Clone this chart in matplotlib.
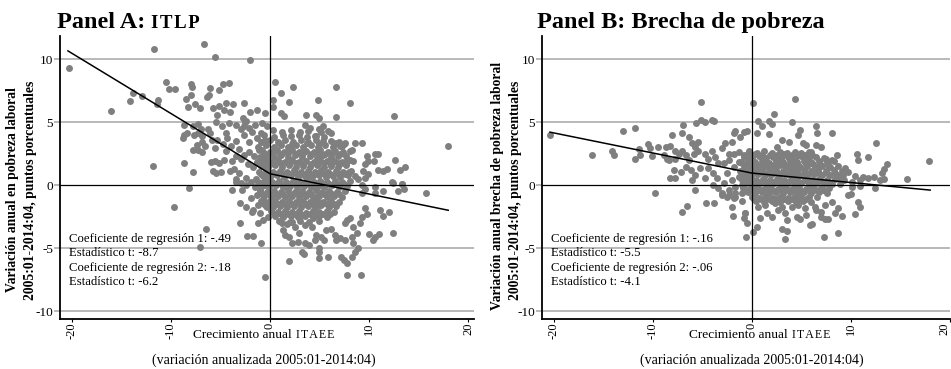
import numpy as np
import matplotlib.pyplot as plt
from matplotlib.transforms import ScaledTranslation

plt.rcParams['font.family'] = ['Liberation Serif', 'DejaVu Serif']

# ---- datos (crecimiento ITAEE, variacion anual) ----
# Panel A: ITLP, puntos aislados
puntos_a = [
    (-20.3, 9.3), (-11.75, 10.8), (-6.7, 11.2), (-5.5, 10.2), (-2.0, 9.9),
    (-16.1, 5.85), (-14.1, 6.64), (-13.8, 7.28), (-12.9, 7.06), (-11.4, 6.45), (-11.3, 6.72),
    (-10.5, 8.2), (-10.2, 7.65), (-9.6, 7.65), (-11.8, 1.53), (-8.7, 1.75), (-7.8, 1.06),
    (-8.0, 7.99), (-7.9, 7.8), (-8.5, 6.85), (-8.0, 7.17), (-8.3, 6.22), (-7.6, 6.45), (-7.1, 6.13),
    (-6.1, 7.73), (-6.35, 6.98), (-6.2, 7.15), (-5.1, 7.54), (-4.7, 8.04), (-4.1, 8.12),
    (-5.8, 6.13), (-5.1, 6.27), (-4.6, 5.95), (-4.4, 6.48), (-3.7, 6.4), (-5.3, 5.58), (-4.0, 5.76),
    (-2.6, 6.48), (-2.0, 5.81), (-1.3, 5.92), (-0.5, 5.68), (-2.7, 5.29), (-2.4, 5.08), (-2.6, 4.68),
    (-8.7, 4.73), (-7.8, 4.68), (-7.3, 4.81), (-7.0, 4.47), (-8.7, 4.0), (-8.4, 4.15), (-8.8, 3.75),
    (-7.7, 3.97), (-7.3, 4.15), (-6.9, 3.89), (-6.3, 4.42), (-6.1, 4.1), (-5.4, 5.0), (-4.8, 4.68),
    (-4.4, 4.15), (-4.1, 4.95), (-3.4, 4.73), (-2.9, 4.42), (-2.5, 5.0), (-2.1, 4.5), (-1.5, 4.8),
    (-0.8, 4.9), (-0.3, 4.7),
    (-7.8, 2.8), (-7.4, 3.2), (-6.9, 3.4), (-6.6, 3.1), (-5.9, 3.57), (-5.6, 2.96), (-5.3, 3.6),
    (-4.7, 3.25), (-4.3, 3.75), (-4.4, 2.7), (-3.9, 3.1), (-3.4, 3.5), (-3.1, 2.85), (-2.6, 3.97),
    (-2.1, 3.44), (-1.8, 4.2), (-1.3, 3.7), (-0.9, 4.1), (-0.5, 3.6), (-7.3, 2.8), (-6.9, 2.6),
    (-6.0, 1.8), (-5.6, 1.88), (-5.1, 1.75), (-4.6, 1.97), (-5.8, 1.1), (-5.4, 0.97), (-4.9, 1.0),
    (-4.0, 1.1), (-3.6, 1.3), (-3.1, 0.97), (-3.8, 1.9), (-3.4, 2.3), (-2.9, 2.04), (-2.6, 2.4),
    (-2.1, 2.65), (-1.6, 2.3), (-1.1, 2.8), (-0.6, 2.55), (-0.3, 2.1),
    (-2.2, 1.7), (-1.7, 1.44), (-1.2, 1.84), (-0.7, 1.58), (-0.4, 1.32),
    (-3.4, 0.46), (-2.9, 0.19), (-2.4, 0.58), (-1.9, 0.24), (-1.4, 0.46), (-0.9, 0.14), (-0.4, 0.5),
    (0.54, 8.15), (2.35, 7.75), (1.1, 7.33), (0.27, 6.75), (1.95, 6.56), (4.8, 6.75), (0.27, 6.17),
    (6.7, 7.75), (8.1, 6.48), (12.5, 5.48), (18.0, 3.12),
    (3.67, 5.53), (4.6, 5.53), (4.95, 5.29), (6.7, 5.4), (1.1, 5.69), (1.45, 5.48),
    (8.6, 3.36), (9.3, 3.36), (7.5, 3.25), (8.3, 2.75), (9.8, 2.3), (10.6, 2.45), (10.9, 2.5),
    (10.5, 1.9), (12.6, 1.96), (10.9, 1.2), (11.4, 1.1), (11.8, 1.3), (13.1, 1.2), (13.6, 1.4),
    (12.3, 0.23), (13.3, 0.1),
    (6.2, 4.15), (5.9, 4.28), (5.4, 4.68), (4.9, 4.42), (3.5, 4.73), (4.0, 4.55), (4.5, 3.89),
    (6.5, 3.36), (7.1, 3.1), (7.6, 3.3), (8.1, 2.7), (8.4, 1.9), (7.8, 2.0), (7.2, 1.77),
    (9.6, 1.65), (9.9, 1.9), (9.4, 1.15), (8.0, 1.0), (8.6, 0.7), (8.9, 0.45), (9.6, 0.6), (9.9, 0.85),
    (15.8, -0.66), (12.4, 0.13), (13.3, 0.08), (13.5, -0.34), (12.9, -0.45), (10.6, -0.13),
    (11.4, -0.45), (10.6, -0.66), (9.3, 0.0), (9.6, -0.34), (9.3, -0.66), (11.1, -1.98),
    (12.0, -2.17), (11.4, -2.43), (12.4, -3.78), (10.0, -3.9), (10.6, -4.15), (11.0, -3.9),
    (10.4, -4.36), (9.6, -1.85), (9.8, -2.33), (9.3, -2.51), (9.1, -3.04),
    (8.4, -3.3), (8.8, -3.8), (8.3, -4.1), (8.4, -4.63), (8.9, -5.0), (8.6, -5.3), (8.3, -5.7),
    (7.2, -5.7), (7.5, -5.95), (7.8, -6.2), (7.8, -7.1), (9.2, -7.1), (5.9, -5.7), (4.9, -5.8),
    (5.0, -5.3), (5.0, -5.0), (3.4, -5.5), (3.2, -5.3), (1.9, -6.0), (-0.5, -7.3),
    (3.5, -4.6), (3.9, -4.76), (2.2, -4.6), (2.8, -4.55), (1.5, -3.97), (1.9, -4.1), (1.3, -3.57),
    (4.6, -3.97), (5.2, -4.1), (5.5, -4.36), (4.5, -4.36), (6.6, -3.97), (7.1, -4.23), (7.6, -4.36),
    (6.7, -4.36), (5.7, -3.57), (6.2, -3.5), (3.5, -3.17), (4.2, -3.3), (2.5, -3.3), (2.9, -3.84),
    (1.2, -3.04), (1.7, -3.1), (2.2, -2.9), (7.6, -3.04), (7.8, -2.78), (8.1, -2.65),
    (-8.15, -0.26), (-9.7, -1.77), (-6.5, -3.52), (-7.07, -4.9), (-3.0, -2.99), (-2.3, -4.05),
    (-1.75, -4.05), (-0.88, -4.6), (-3.8, -0.4), (-3.4, 0.26), (-3.0, -1.45), (-2.4, -1.72),
    (-1.7, -1.98), (-1.0, -2.25), (-1.9, -1.06), (-1.35, -0.79), (-0.67, -1.19), (-0.33, -1.72),
    (-1.0, -0.4), (-0.5, 0.0), (-1.5, -0.13), (-2.4, 0.0), (-2.8, -0.4), (-1.85, -2.1),
    (-1.2, -3.04), (-0.67, -2.78), (-0.17, -2.5), (-1.2, -1.58),
]

# Panel A: nube densa central
nube_a = [
    (0.3, 4.38), (1.2, 4.22), (2.1, 4.35), (3.0, 4.18), (3.8, 4.32), (5.2, 4.25),
    (-0.6, 3.95), (0.4, 3.82), (1.3, 4.0), (2.1, 3.86), (2.9, 3.97), (3.7, 3.8), (4.6, 3.93), (5.5, 3.85),
    (-0.9, 3.42), (0.0, 3.58), (0.8, 3.45), (1.5, 3.6), (2.3, 3.43), (3.1, 3.55), (3.8, 3.4),
    (4.6, 3.57), (5.4, 3.46), (6.2, 3.52), (7.0, 3.44),
    (-0.5, 3.3), (0.9, 3.33), (2.2, 3.28), (3.7, 3.32), (5.0, 3.27), (6.8, 3.31),
    (-1.2, 3.05), (-0.4, 3.18), (0.4, 3.02), (1.1, 3.15), (1.8, 3.0), (2.6, 3.17), (3.3, 3.04),
    (4.1, 3.2), (4.8, 3.06), (5.6, 3.14), (6.4, 3.0), (7.3, 3.12),
    (-0.8, 2.75), (0.0, 2.62), (0.7, 2.78), (1.4, 2.64), (2.2, 2.76), (2.9, 2.6), (3.6, 2.74),
    (4.4, 2.66), (5.1, 2.8), (5.9, 2.63), (6.6, 2.72), (7.4, 2.65),
    (-0.6, 2.5), (0.3, 2.53), (1.0, 2.47), (1.8, 2.52), (2.6, 2.46), (3.3, 2.54), (4.1, 2.48),
    (4.9, 2.51), (5.6, 2.45), (6.3, 2.52), (7.1, 2.49),
    (-1.0, 2.26), (-0.3, 2.38), (0.4, 2.22), (1.1, 2.35), (1.8, 2.24), (2.5, 2.37), (3.2, 2.2),
    (4.0, 2.33), (4.7, 2.25), (5.4, 2.39), (6.2, 2.23), (6.9, 2.34), (7.7, 2.27),
    (-1.3, 1.86), (-0.6, 1.97), (0.1, 1.83), (0.8, 1.95), (1.5, 1.84), (2.2, 1.98), (2.9, 1.85),
    (3.6, 1.94), (4.4, 1.82), (5.1, 1.96), (5.8, 1.87), (6.5, 1.93), (7.3, 1.84), (8.1, 1.95),
    (-1.0, 1.7), (-0.3, 1.73), (0.4, 1.67), (1.1, 1.72), (1.9, 1.66), (2.6, 1.74), (3.3, 1.68),
    (4.1, 1.71), (4.8, 1.65), (5.5, 1.73), (6.2, 1.69), (6.9, 1.72), (7.7, 1.67),
    (-0.9, 1.55), (-0.2, 1.43), (0.5, 1.57), (1.2, 1.45), (1.9, 1.56), (2.6, 1.42), (3.3, 1.54),
    (4.0, 1.46), (4.7, 1.58), (5.5, 1.44), (6.2, 1.53), (6.9, 1.47), (7.7, 1.56),
    (-1.1, 1.06), (-0.4, 1.17), (0.3, 1.03), (1.0, 1.15), (1.7, 1.04), (2.4, 1.16), (3.1, 1.02),
    (3.8, 1.14), (4.5, 1.05), (5.2, 1.18), (5.9, 1.03), (6.7, 1.13), (7.4, 1.06), (8.2, 1.15),
    (-0.9, 0.9), (-0.2, 0.93), (0.5, 0.87), (1.2, 0.92), (1.9, 0.86), (2.6, 0.94), (3.3, 0.88),
    (4.0, 0.91), (4.7, 0.85), (5.4, 0.93), (6.1, 0.89), (6.9, 0.92), (7.6, 0.87),
    (-0.7, 0.74), (0.0, 0.63), (0.7, 0.77), (1.4, 0.65), (2.1, 0.76), (2.8, 0.62), (3.5, 0.75),
    (4.2, 0.66), (4.9, 0.78), (5.7, 0.64), (6.4, 0.73), (7.1, 0.67), (7.9, 0.76),
    (-1.2, 0.26), (-0.5, 0.37), (0.2, 0.24), (0.9, 0.35), (1.6, 0.22), (2.3, 0.36), (3.0, 0.25),
    (3.7, 0.38), (4.4, 0.23), (5.1, 0.34), (5.8, 0.27), (6.6, 0.36), (7.3, 0.24), (8.1, 0.33),
    (-1.0, 0.1), (-0.3, 0.13), (0.4, 0.07), (1.1, 0.12), (1.8, 0.06), (2.5, 0.14), (3.2, 0.08),
    (3.9, 0.11), (4.6, 0.05), (5.3, 0.13), (6.0, 0.09), (6.8, 0.12), (7.5, 0.07),
    (-0.8, -0.05), (-0.1, -0.17), (0.6, -0.03), (1.3, -0.15), (2.0, -0.06), (2.7, -0.18),
    (3.4, -0.04), (4.1, -0.16), (4.8, -0.07), (5.5, -0.14), (6.3, -0.02), (7.0, -0.13), (7.8, -0.08),
    (-1.0, -0.46), (-0.3, -0.57), (0.4, -0.44), (1.1, -0.55), (1.8, -0.43), (2.5, -0.58),
    (3.2, -0.45), (3.9, -0.54), (4.6, -0.42), (5.3, -0.56), (6.0, -0.47), (6.8, -0.53), (7.6, -0.45),
    (-0.8, -0.7), (-0.1, -0.67), (0.6, -0.73), (1.3, -0.68), (2.0, -0.74), (2.7, -0.66),
    (3.4, -0.72), (4.1, -0.69), (4.8, -0.75), (5.5, -0.67), (6.3, -0.71), (7.0, -0.68),
    (-0.6, -0.86), (0.1, -0.97), (0.8, -0.84), (1.5, -0.95), (2.2, -0.83), (2.9, -0.98),
    (3.6, -0.85), (4.3, -0.94), (5.0, -0.87), (5.8, -0.96), (6.5, -0.84), (7.3, -0.93),
    (-0.9, -1.26), (-0.2, -1.37), (0.5, -1.24), (1.2, -1.35), (1.9, -1.23), (2.6, -1.38),
    (3.3, -1.25), (4.0, -1.34), (4.7, -1.22), (5.4, -1.36), (6.2, -1.27), (7.0, -1.33),
    (-0.6, -1.5), (0.1, -1.47), (0.8, -1.53), (1.5, -1.48), (2.2, -1.54), (2.9, -1.46),
    (3.6, -1.52), (4.3, -1.49), (5.0, -1.55), (5.8, -1.47), (6.5, -1.51),
    (-0.4, -1.66), (0.3, -1.77), (1.0, -1.64), (1.7, -1.75), (2.4, -1.63), (3.1, -1.78),
    (3.8, -1.65), (4.5, -1.74), (5.2, -1.62), (6.0, -1.76), (6.7, -1.67),
    (0.1, -2.06), (0.8, -2.17), (1.5, -2.04), (2.2, -2.15), (2.9, -2.03), (3.6, -2.18),
    (4.3, -2.05), (5.0, -2.14), (5.8, -2.07), (6.5, -2.13),
    (0.4, -2.3), (1.1, -2.27), (1.8, -2.33), (2.5, -2.28), (3.2, -2.34), (4.0, -2.26),
    (4.7, -2.32), (5.4, -2.29), (6.1, -2.31),
    (0.5, -2.46), (1.3, -2.57), (2.1, -2.44), (2.8, -2.55), (3.5, -2.43), (4.3, -2.58),
    (5.0, -2.45), (5.8, -2.54),
    (0.9, -2.86), (2.0, -2.97), (3.0, -2.84), (3.9, -2.95), (5.0, -2.88),
]

# Panel B: brecha de pobreza, puntos aislados
puntos_b = [
    (-20.4, 3.97), (-16.2, 2.38), (-14.1, 2.67), (-13.9, 2.38), (-13.0, 4.29), (-11.8, 4.55),
    (-11.8, 2.03), (-11.3, 2.38), (-11.4, 2.9), (-10.5, 3.23), (-10.3, 2.97), (-10.1, 2.3),
    (-9.5, 3.04), (-9.8, -0.66), (-8.7, 3.04), (-8.25, 3.1), (-8.6, 2.1), (-8.9, 2.4), (-8.4, 1.98),
    (-8.1, 3.97), (-7.1, 4.1), (-7.0, 4.75), (-5.1, 6.6), (-5.6, 4.89), (-5.1, 5.2), (-4.7, 4.97),
    (-4.0, 5.2), (-3.8, 5.12),
    (-7.8, 2.72), (-7.4, 2.45), (-7.1, 2.72), (-7.8, 2.03), (-6.7, 2.38), (-6.4, 1.98),
    (-7.9, 1.23), (-7.2, 1.06), (-6.7, 1.4), (-8.25, 0.58), (-7.8, 0.58),
    (-6.4, 3.84), (-6.05, 3.31), (-5.7, 3.04), (-5.4, 3.44), (-5.9, 2.5), (-5.4, 2.67),
    (-6.2, 1.19), (-5.7, 0.79), (-5.2, 1.32), (-6.05, 0.4), (-5.7, -0.4),
    (-4.7, 2.5), (-4.4, 2.1), (-4.0, 2.72), (-3.7, 2.2), (-3.4, 1.72), (-4.4, 1.32), (-3.9, 0.92),
    (-3.5, 0.53), (-4.7, 0.53),
    (-3.0, 2.98), (-2.7, 3.3), (-2.3, 2.5), (-2.0, 3.44), (-1.85, 4.1), (-1.7, 4.3), (-1.2, 3.84),
    (-0.84, 4.2), (-0.5, 4.3),
    (-2.85, 1.72), (-2.36, 1.98), (-1.85, 1.45), (-1.35, 1.85), (-0.84, 1.32), (-0.34, 1.98),
    (-2.5, 0.92), (-2.0, 0.4), (-1.35, 0.66), (-0.67, 0.53), (-0.17, 0.79),
    (-3.0, -0.66), (-2.36, -0.8), (-1.68, -0.93), (-1.0, -0.66), (-1.85, 2.5), (-1.35, 2.6),
    (-0.84, 2.38), (-0.34, 2.72),
    (4.35, 6.85), (0.13, 6.54), (2.26, 5.61), (0.64, 5.11), (1.72, 5.11), (2.0, 4.81), (0.98, 4.68),
    (4.0, 4.97), (6.5, 4.68), (6.6, 4.1), (8.05, 4.1), (4.9, 4.36), (0.47, 4.17), (1.72, 4.02),
    (12.5, 3.31), (17.9, 1.92), (15.7, 0.45), (10.6, 2.5), (10.75, 1.98), (11.75, 2.25),
    (13.6, 1.66), (13.3, 1.25), (13.1, 0.92), (12.9, 0.4), (13.3, 0.45), (12.3, 0.61),
    (11.75, 0.53), (11.25, 0.66), (10.9, 0.4), (10.4, 0.74), (12.4, -0.26),
    (9.4, 1.32), (9.7, 1.06), (9.2, 0.79), (8.7, 0.53), (10.1, 0.26), (8.55, 2.38), (8.05, 1.98),
    (7.5, 2.1), (7.0, 3.04), (6.5, 3.17), (6.0, 2.64), (4.7, 3.97), (5.2, 3.31), (5.5, 3.17),
    (3.7, 3.44), (3.0, 3.57), (2.5, 3.04),
    (3.33, -4.3), (3.06, -3.5), (3.5, -3.65), (7.3, -4.15), (8.7, -3.8), (0.13, -3.7),
    (0.47, -3.36), (5.86, -3.17), (6.03, -3.1), (7.4, -2.72), (7.7, -2.72), (7.0, -2.5),
    (8.4, -2.25), (9.06, -2.46), (8.7, -1.85), (10.4, -2.3), (10.9, -1.72), (10.7, -1.32),
    (9.7, -0.79), (10.0, -0.71), (10.1, -0.13), (10.9, -0.08), (4.5, -2.5), (4.85, -2.7),
    (5.5, -2.38), (6.5, -1.98), (7.0, -2.1), (3.33, -2.25), (3.5, -2.8), (2.66, -1.98),
    (2.0, -2.5), (1.5, -2.25), (0.8, -2.65), (0.64, -1.72), (1.3, -1.58), (2.3, -1.45),
    (3.0, -1.72), (4.0, -1.72), (4.7, -1.58), (5.35, -1.85), (6.36, -1.72), (7.4, -1.58),
    (8.05, -1.32), (-0.7, -2.25), (-0.54, -3.04),
    (-4.6, -1.4), (-3.8, -1.4), (-6.6, -1.67), (-7.1, -2.14), (-3.0, -0.79), (-2.5, -0.98),
    (-2.0, -1.72), (-1.85, -1.06), (-1.7, -0.66), (-1.0, -1.24), (-0.67, -2.25), (-0.84, -2.65),
    (-1.9, -2.43), (-0.6, -4.1),
    (-3.9, 0.0), (-3.4, -0.26), (-2.85, 0.13), (-2.36, -0.4), (-1.68, -0.13), (-1.0, 0.0),
    (-0.33, -0.4), (-0.17, 0.13),
]

# Panel B: nube densa central
nube_b = [
    (-0.3, 2.64), (0.5, 2.55), (1.2, 2.68), (2.0, 2.57), (2.8, 2.66), (3.5, 2.53), (4.3, 2.65),
    (5.0, 2.56), (5.8, 2.62),
    (-0.4, 2.4), (0.3, 2.43), (1.0, 2.37), (1.8, 2.42), (2.5, 2.36), (3.2, 2.44), (4.0, 2.38),
    (4.7, 2.41), (5.4, 2.35), (6.1, 2.42),
    (-0.8, 2.24), (0.0, 2.15), (0.7, 2.27), (1.4, 2.16), (2.1, 2.25), (2.9, 2.13), (3.6, 2.26),
    (4.3, 2.17), (5.0, 2.28), (5.7, 2.14), (6.5, 2.23), (7.3, 2.18),
    (-1.1, 1.82), (-0.4, 1.9), (0.3, 1.8), (1.0, 1.91), (1.7, 1.79), (2.4, 1.88), (3.1, 1.81),
    (3.8, 1.92), (4.5, 1.8), (5.3, 1.89), (6.0, 1.83), (6.8, 1.9), (7.6, 1.81), (8.3, 1.88),
    (-0.9, 1.65), (-0.2, 1.68), (0.5, 1.62), (1.2, 1.67), (1.9, 1.61), (2.6, 1.69), (3.3, 1.63),
    (4.0, 1.66), (4.7, 1.6), (5.5, 1.68), (6.2, 1.64), (6.9, 1.67), (7.7, 1.62),
    (-0.7, 1.47), (0.0, 1.55), (0.7, 1.45), (1.4, 1.54), (2.1, 1.46), (2.8, 1.56), (3.5, 1.44),
    (4.2, 1.53), (4.9, 1.47), (5.6, 1.55), (6.4, 1.45), (7.1, 1.52), (7.9, 1.46), (8.7, 1.54),
    (-1.2, 1.12), (-0.4, 1.2), (0.3, 1.1), (1.0, 1.19), (1.7, 1.11), (2.4, 1.21), (3.1, 1.09),
    (3.9, 1.18), (4.6, 1.12), (5.3, 1.2), (6.0, 1.1), (6.7, 1.17), (7.5, 1.13), (8.3, 1.19), (9.1, 1.11),
    (-1.0, 0.95), (-0.3, 0.98), (0.4, 0.92), (1.1, 0.97), (1.8, 0.91), (2.5, 0.99), (3.2, 0.93),
    (3.9, 0.96), (4.6, 0.9), (5.4, 0.98), (6.1, 0.94), (6.8, 0.97), (7.6, 0.92), (8.4, 0.96),
    (-0.8, 0.83), (-0.1, 0.75), (0.6, 0.85), (1.3, 0.76), (2.0, 0.84), (2.7, 0.74), (3.5, 0.86),
    (4.2, 0.77), (4.9, 0.83), (5.6, 0.75), (6.3, 0.85), (7.1, 0.76), (7.9, 0.82), (8.6, 0.77),
    (-1.0, 0.42), (-0.3, 0.5), (0.4, 0.4), (1.1, 0.49), (1.8, 0.41), (2.5, 0.51), (3.2, 0.39),
    (3.9, 0.48), (4.6, 0.42), (5.4, 0.5), (6.1, 0.4), (6.8, 0.47), (7.6, 0.43), (8.4, 0.49), (9.3, 0.41),
    (-0.8, 0.3), (-0.1, 0.33), (0.6, 0.27), (1.3, 0.32), (2.0, 0.26), (2.7, 0.34), (3.4, 0.28),
    (4.1, 0.31), (4.8, 0.25), (5.6, 0.33), (6.3, 0.29), (7.0, 0.32), (7.8, 0.27),
    (-0.6, 0.13), (0.1, 0.05), (0.8, 0.15), (1.5, 0.06), (2.2, 0.14), (2.9, 0.04), (3.6, 0.16),
    (4.3, 0.07), (5.0, 0.13), (5.8, 0.05), (6.5, 0.15), (7.3, 0.06), (8.1, 0.12), (8.9, 0.07),
    (-0.9, -0.22), (-0.2, -0.3), (0.5, -0.2), (1.2, -0.29), (1.9, -0.21), (2.6, -0.31),
    (3.3, -0.19), (4.0, -0.28), (4.8, -0.23), (5.5, -0.3), (6.2, -0.2), (7.0, -0.27), (7.8, -0.22),
    (-0.6, -0.4), (0.1, -0.37), (0.8, -0.43), (1.5, -0.38), (2.2, -0.44), (2.9, -0.36),
    (3.6, -0.42), (4.3, -0.39), (5.0, -0.45), (5.8, -0.37), (6.5, -0.41), (7.2, -0.38),
    (-0.4, -0.57), (0.3, -0.65), (1.0, -0.55), (1.7, -0.64), (2.4, -0.56), (3.1, -0.66),
    (3.8, -0.54), (4.5, -0.63), (5.3, -0.58), (6.0, -0.65), (6.8, -0.55), (7.6, -0.62),
    (0.0, -0.92), (0.7, -1.0), (1.4, -0.9), (2.1, -0.99), (2.8, -0.91), (3.6, -1.01),
    (4.3, -0.89), (5.0, -0.98), (5.8, -0.93), (6.6, -0.97),
    (0.2, -1.1), (0.9, -1.13), (1.7, -1.08), (2.4, -1.14), (3.2, -1.09), (4.0, -1.12),
    (4.7, -1.07), (5.5, -1.13),
    (0.4, -1.27), (1.2, -1.35), (2.0, -1.25), (2.8, -1.34), (3.6, -1.26), (4.4, -1.36),
    (5.2, -1.28), (6.0, -1.33),
]

# regresion por tramos (quiebre en 0)
tramo_a_x = [-20.4, 0, 18]
tramo_a_y = [10.65, 0.9, -2.0]
tramo_b_x = [-20.4, 0, 18]
tramo_b_y = [4.2, 0.95, -0.4]

estad_a = ["Coeficiente de regresión 1: -.49", "Estadístico t: -8.7",
           "Coeficiente de regresión 2: -.18", "Estadístico t: -6.2"]
estad_b = ["Coeficiente de regresión 1: -.16", "Estadístico t: -5.5",
           "Coeficiente de regresión 2: -.06", "Estadístico t: -4.1"]

y_ticks = [-10, -5, 0, 5, 10]
x_ticks = [-20, -10, 0, 10, 20]

W, H = 951, 369
fig = plt.figure(figsize=(W / 100, H / 100), dpi=100)


def fx(x):
    return x / W


def fy(y):
    return 1 - y / H


GRIS = '#7f7f7f'
GRIS_CLARO = '#a6a6a6'


def dibujar_panel(left, right, xmax, puntos, nube, tx, ty, estad):
    ax = fig.add_axes([fx(left), fy(319), fx(right - left), (319 - 36) / H])
    ax.set_xlim(-21.2, xmax)
    ax.set_ylim(-10.63, 11.83)
    for s in ['top', 'right']:
        ax.spines[s].set_visible(False)
    for s in ['left', 'bottom']:
        ax.spines[s].set_linewidth(1.3)
    for v in [-10, -5, 5, 10]:
        ax.axhline(v, color=GRIS_CLARO, lw=1.1, zorder=0)
    pts = np.array(puntos + nube)
    ax.scatter(pts[:, 0], pts[:, 1], s=25, color=GRIS, linewidths=0, zorder=2)
    ax.axhline(0, color='black', lw=0.9, zorder=3)
    ax.axvline(0, color='black', lw=0.9, zorder=3)
    ax.plot(tx, ty, color='black', lw=1.1, zorder=4)
    ax.set_yticks(y_ticks)
    ax.set_yticklabels([str(t) for t in y_ticks])
    ax.set_xticks(x_ticks)
    ax.set_xticklabels([str(t) for t in x_ticks], rotation=90)
    ax.tick_params(axis='y', length=4, color=GRIS_CLARO, width=1.1, pad=1, labelsize=9.5)
    ax.tick_params(axis='x', length=2, width=0.8, pad=0.5, labelsize=9)
    for i, t in enumerate(estad):
        yy = (185 - (238.5 + 14.5 * i)) / 12.6
        ax.text(-20.3, yy, t, fontsize=9.2, va='center', ha='left', zorder=5)
    return ax


ax1 = dibujar_panel(60, 474, 20.6, puntos_a, nube_a, tramo_a_x, tramo_a_y, estad_a)
ax2 = dibujar_panel(542, 950, 20.0, puntos_b, nube_b, tramo_b_x, tramo_b_y, estad_b)

# la etiqueta "20" del panel B queda en el borde: se corre un poco a la izquierda
lab20 = ax2.get_xticklabels()[-1]
lab20.set_transform(lab20.get_transform() + ScaledTranslation(-4 / 72, 0, fig.dpi_scale_trans))

# versalitas aproximadas: mayusculas mas chicas con un espacio muy fino entre letras
FINO = '\u200a'


def titulo(x, texto, sc):
    t = fig.text(fx(x), fy(28), texto, fontsize=17.5, weight='bold', va='baseline')
    if sc:
        fig.canvas.draw()
        bb = t.get_window_extent()
        fig.text(fx(bb.x1 + 6), fy(28), FINO.join(sc), fontsize=13.5, weight='bold',
                 va='baseline')


titulo(57, 'Panel A:', 'ITLP')
titulo(537, 'Panel B: Brecha de pobreza', '')


def etiqueta_x(x_izq, x_centro):
    t = fig.text(fx(x_izq), fy(338), 'Crecimiento anual', fontsize=9.6, va='baseline')
    fig.canvas.draw()
    bb = t.get_window_extent()
    fig.text(fx(bb.x1 + 4), fy(338), FINO.join('ITAEE'), fontsize=8.6, va='baseline')
    fig.text(fx(x_centro), fy(364), '(variación anualizada 2005:01-2014:04)',
             fontsize=10, va='baseline', ha='center')


etiqueta_x(193, 264)
etiqueta_x(689, 751.5)

fig.text(fx(13), fy(190), 'Variación anual en pobreza laboral', rotation=90,
         fontsize=9.8, weight='bold', ha='center', va='center')
fig.text(fx(31), fy(190), '2005:01-2014:04, puntos porcentuales', rotation=90,
         fontsize=9.8, weight='bold', ha='center', va='center')
fig.text(fx(497), fy(186), 'Variación anual brecha de pobreza laboral', rotation=90,
         fontsize=9.8, weight='bold', ha='center', va='center')
fig.text(fx(515), fy(190), '2005:01-2014:04, puntos porcentuales', rotation=90,
         fontsize=9.8, weight='bold', ha='center', va='center')

fig.savefig('out.png', dpi=100)
